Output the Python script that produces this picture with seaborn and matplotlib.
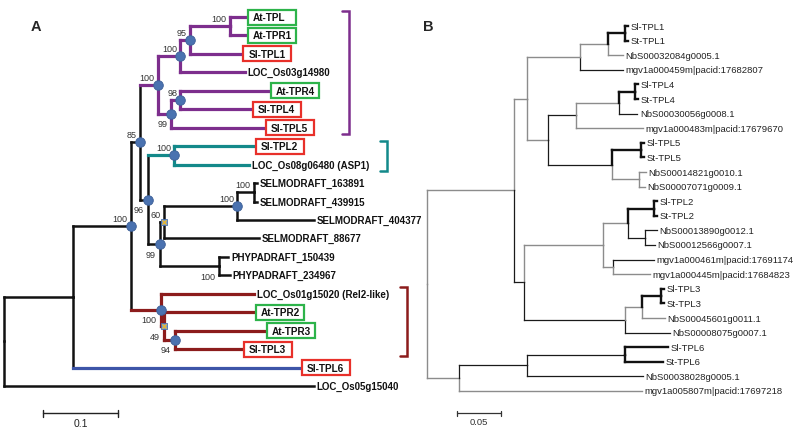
import matplotlib
matplotlib.use("Agg")
import matplotlib.pyplot as plt
from matplotlib.patches import Rectangle
import seaborn as sns
import pandas as pd

sns.set_theme(style="white")
plt.rcParams["font.family"] = ["Liberation Sans", "DejaVu Sans"]

# ---------------- Panel A data (distances from root, subst./site) ----------------
a_leaves = ["At-TPL", "At-TPR1", "Sl-TPL1", "LOC_Os03g14980", "At-TPR4", "Sl-TPL4", "Sl-TPL5",
            "Sl-TPL2", "LOC_Os08g06480 (ASP1)", "SELMODRAFT_163891", "SELMODRAFT_439915",
            "SELMODRAFT_404377", "SELMODRAFT_88677", "PHYPADRAFT_150439", "PHYPADRAFT_234967",
            "LOC_Os01g15020 (Rel2-like)", "At-TPR2", "At-TPR3", "Sl-TPL3", "Sl-TPL6",
            "LOC_Os05g15040"]
a_leaf_parent = ["n7", "n7", "n6", "n5", "n9", "n9", "n8",
                 "n11", "n11", "n15", "n15",
                 "n14", "n13", "n16", "n16",
                 "n17", "n18", "n19", "n19", "n1",
                 "root"]
a_leaf_depth = [0.325, 0.325, 0.319, 0.321, 0.356, 0.332, 0.349,
                0.336, 0.327, 0.337, 0.337,
                0.413, 0.340, 0.299, 0.301,
                0.333, 0.336, 0.351, 0.320, 0.397,
                0.413]

a_inner = ["root", "n1", "n2", "n3", "n4", "n5", "n6", "n7", "n8", "n9", "n10",
           "n11", "n12", "n13", "n14", "n15", "n16", "n17", "n18", "n19"]
a_inner_parent = [None, "root", "n1", "n2", "n3", "n4", "n5", "n6", "n4", "n8", "n3",
                  "n10", "n10", "n12", "n13", "n14", "n12", "n2", "n17", "n18"]
a_inner_depth = [0.0, 0.092, 0.169, 0.181, 0.205, 0.235, 0.248, 0.301, 0.223, 0.235, 0.192,
                 0.227, 0.208, 0.213, 0.311, 0.333, 0.287, 0.209, 0.213, 0.228]
a_support = {"n2": 100, "n3": 85, "n4": 100, "n5": 100, "n6": 95, "n7": 100, "n8": 99,
             "n9": 98, "n10": 96, "n11": 100, "n12": 99, "n13": 60, "n14": 100,
             "n15": 100, "n16": 100, "n17": 100, "n18": 49, "n19": 94}

# ---------------- Panel B data ----------------
b_leaves = ["Sl-TPL1", "St-TPL1", "NbS00032084g0005.1", "mgv1a000459m|pacid:17682807",
            "Sl-TPL4", "St-TPL4", "NbS00030056g0008.1", "mgv1a000483m|pacid:17679670",
            "Sl-TPL5", "St-TPL5", "NbS00014821g0010.1", "NbS00007071g0009.1",
            "Sl-TPL2", "St-TPL2", "NbS00013890g0012.1", "NbS00012566g0007.1",
            "mgv1a000461m|pacid:17691174", "mgv1a000445m|pacid:17684823",
            "Sl-TPL3", "St-TPL3", "NbS00045601g0011.1", "NbS00008075g0007.1",
            "Sl-TPL6", "St-TPL6", "NbS00038028g0005.1", "mgv1a005807m|pacid:17697218"]
b_leaf_parent = ["m5", "m5", "m4", "m3",
                 "m9", "m9", "m8", "m7",
                 "m11", "m11", "m12", "m12",
                 "m16", "m16", "m17", "m17",
                 "m18", "m18",
                 "m21", "m21", "m20", "m19",
                 "m24", "m24", "m23", "m22"]
b_leaf_depth = [0.228, 0.228, 0.223, 0.223,
                0.240, 0.240, 0.239, 0.245,
                0.247, 0.247, 0.249, 0.248,
                0.261, 0.261, 0.261, 0.259,
                0.258, 0.253,
                0.269, 0.269, 0.270, 0.276,
                0.274, 0.268, 0.245, 0.244]

b_inner = ["R", "m1", "m2", "m3", "m4", "m5", "m6", "m7", "m8", "m9", "m10", "m11", "m12",
           "m13", "m14", "m15", "m16", "m17", "m18", "m19", "m20", "m21", "m22", "m23", "m24"]
b_inner_parent = [None, "R", "m1", "m2", "m3", "m4", "m2", "m6", "m7", "m8", "m6", "m10", "m10",
                  "m1", "m13", "m14", "m15", "m15", "m14", "m13", "m19", "m20", "R", "m22", "m23"]
b_inner_depth = [0.0, 0.099, 0.114, 0.174, 0.206, 0.225, 0.138, 0.169, 0.218, 0.236, 0.210,
                 0.243, 0.241, 0.110, 0.200, 0.228, 0.258, 0.248, 0.211, 0.225, 0.244,
                 0.266, 0.036, 0.114, 0.225]

# ---------------- styling ----------------
W, H = 800, 431
PURPLE, TEAL, DARKRED, BLUE = "#7D2E8D", "#13898A", "#8C1C1C", "#3D55A8"
GREEN_BOX, RED_BOX = "#2DB34A", "#E8302A"
NODE_BLUE = "#4A72B0"
a_clades = {"n4": PURPLE, "n11": TEAL, "n17": DARKRED, "Sl-TPL6": BLUE}
a_circled = ["n2", "n3", "n4", "n5", "n6", "n8", "n9", "n10", "n11", "n12", "n14", "n17", "n19"]
a_crossed = ["n13", "n18"]
a_label_below = ["n8", "n10", "n12", "n16", "n17", "n18", "n19"]

# branch colours in panel B: g = grey, k = thin black, K = thick black
b_style = {"m1": "g", "m22": "g", "m2": "g", "m13": "k", "m3": "g", "m6": "g", "m4": "g",
           "mgv1a000459m|pacid:17682807": "k", "m5": "K", "NbS00032084g0005.1": "g",
           "m7": "k", "m10": "k", "m8": "g", "mgv1a000483m|pacid:17679670": "g", "m9": "K",
           "NbS00030056g0008.1": "k", "m11": "K", "m12": "g", "NbS00014821g0010.1": "g",
           "NbS00007071g0009.1": "g", "m14": "g", "m19": "k", "m15": "g", "m18": "g",
           "m16": "K", "m17": "k", "NbS00013890g0012.1": "k", "NbS00012566g0007.1": "k",
           "mgv1a000461m|pacid:17691174": "k", "mgv1a000445m|pacid:17684823": "g",
           "m20": "g", "NbS00008075g0007.1": "k", "m21": "K", "NbS00045601g0011.1": "g",
           "m23": "k", "mgv1a005807m|pacid:17697218": "g", "m24": "k",
           "NbS00038028g0005.1": "k"}
for name in b_leaves:
    if name[:3] in ("Sl-", "St-"):
        b_style[name] = "K"


def layout(leaves, leaf_parent, leaf_depth, inner, inner_parent, inner_depth):
    depth = dict(zip(leaves, leaf_depth))
    depth.update(zip(inner, inner_depth))
    parent = dict(zip(leaves, leaf_parent))
    parent.update(zip(inner, inner_parent))
    children = {}
    for c, p in parent.items():
        if p is not None:
            children.setdefault(p, []).append(c)
    y = {n: i for i, n in enumerate(leaves)}

    def get_y(n):
        if n not in y:
            ys = [get_y(c) for c in children[n]]
            y[n] = (min(ys) + max(ys)) / 2
        return y[n]
    for n in inner:
        get_y(n)
    return depth, parent, y


def make_axes(x0_px, unit_px, y0_px, row_px):
    ax = fig.add_axes([0, 0, 1, 1])
    ax.set_xlim(-x0_px / unit_px, (W - x0_px) / unit_px)
    ax.set_ylim((H - y0_px) / row_px, -y0_px / row_px)
    ax.axis("off")
    ax.patch.set_alpha(0)
    return ax


fig = plt.figure(figsize=(W / 100, H / 100), dpi=100)

# ================= Panel A =================
AX0, AUNIT, AY0, AROW = 4, 750.0, 18, 18.45
axA = make_axes(AX0, AUNIT, AY0, AROW)
depA, parA, yA = layout(a_leaves, a_leaf_parent, a_leaf_depth, a_inner, a_inner_parent, a_inner_depth)


def clade_colour(n):
    while n is not None:
        if n in a_clades:
            return a_clades[n]
        n = parA[n]
    return None


for c, p in parA.items():
    if p is None:
        continue
    hc = clade_colour(c)
    vc = clade_colour(p)
    axA.plot([depA[p], depA[p]], [yA[p], yA[c]], color=vc or "#111111",
             lw=2.3 if vc else 1.8, solid_capstyle="projecting", zorder=1)
    axA.plot([depA[p], depA[c]], [yA[c], yA[c]], color=hc or "#111111",
             lw=2.3 if hc else 1.8, solid_capstyle="projecting", zorder=1)

nodes_df = pd.DataFrame({"x": [depA[n] for n in a_circled], "y": [yA[n] for n in a_circled]})
sns.scatterplot(data=nodes_df, x="x", y="y", ax=axA, s=48, color=NODE_BLUE,
                edgecolor="#3B5E96", linewidth=0.6, zorder=4, legend=False)
cross_df = pd.DataFrame({"x": [depA[n] for n in a_crossed], "y": [yA[n] for n in a_crossed]})
sns.scatterplot(data=cross_df, x="x", y="y", ax=axA, s=22, marker="s", color="#7FA0CF",
                edgecolor=NODE_BLUE, linewidth=0.6, zorder=4, legend=False)
sns.scatterplot(data=cross_df, x="x", y="y", ax=axA, s=10, marker="x", color="#E2B53A",
                linewidth=1.0, zorder=5, legend=False)
axA.set_xlabel("")
axA.set_ylabel("")

for n, val in a_support.items():
    off = (-4, -10) if n in a_label_below else (-3, 8)
    axA.annotate(str(val), (depA[n], yA[n]), xytext=(off[0] * 0.72, off[1] * 0.72),
                 textcoords="offset points", ha="right", va="center",
                 fontsize=6.5, color="#333333", zorder=6)

for n in a_leaves:
    x, y = depA[n], yA[n]
    if n.startswith("At-") or n.startswith("Sl-"):
        ec = GREEN_BOX if n.startswith("At-") else RED_BOX
        axA.add_patch(Rectangle((x, y - 7.5 / AROW), 48 / AUNIT, 15 / AROW, fc="white",
                                ec=ec, lw=1.6, zorder=3))
        axA.text(x + 5 / AUNIT, y, n, fontsize=7.2, fontweight="bold", va="center",
                 ha="left", color="#111111", zorder=4)
    else:
        axA.text(x + 3 / AUNIT, y, n, fontsize=7.0, fontweight="bold", va="center",
                 ha="left", color="#111111", zorder=4)

# scale bar A
sb_y = (414 - AY0) / AROW
sb_x0 = (43 - AX0) / AUNIT
axA.plot([sb_x0, sb_x0 + 0.1], [sb_y, sb_y], color="#222222", lw=1.0)
for xx in (sb_x0, sb_x0 + 0.1):
    axA.plot([xx, xx], [sb_y - 3.5 / AROW, sb_y + 3.5 / AROW], color="#222222", lw=1.0)
axA.text(sb_x0 + 0.05, sb_y + 10 / AROW, "0.1", ha="center", va="center", fontsize=7.5,
         color="#222222")

# clade brackets (figure pixels)
axO = fig.add_axes([0, 0, 1, 1])
axO.set_xlim(0, W)
axO.set_ylim(H, 0)
axO.axis("off")
axO.patch.set_alpha(0)
for bx, y0, y1, col in [(349, 12, 135, PURPLE), (387, 142, 172, TEAL), (407, 288, 357, DARKRED)]:
    axO.plot([bx - 7, bx, bx, bx - 7], [y0, y0, y1, y1], color=col, lw=1.8,
             solid_joinstyle="miter")

fig.text(36 / W, 1 - 27 / H, "A", fontsize=10.5, fontweight="bold", ha="center", va="center")
fig.text(428 / W, 1 - 27 / H, "B", fontsize=10.5, fontweight="bold", ha="center", va="center")

# ================= Panel B =================
BX0, BUNIT, BY0, BROW = 427, 880.0, 27, 14.6
axB = make_axes(BX0, BUNIT, BY0, BROW)
depB, parB, yB = layout(b_leaves, b_leaf_parent, b_leaf_depth, b_inner, b_inner_parent, b_inner_depth)

line_look = {"g": ("#8C8C8C", 1.0), "k": ("#1A1A1A", 0.9), "K": ("#111111", 1.7)}
for c, p in parB.items():
    if p is None:
        continue
    col, lw = line_look[b_style.get(c, "k")]
    axB.plot([depB[p], depB[p]], [yB[p], yB[c]], color=col, lw=lw,
             solid_capstyle="projecting", zorder=2 if lw > 1.5 else 1)
    axB.plot([depB[p], depB[c]], [yB[c], yB[c]], color=col, lw=lw,
             solid_capstyle="projecting", zorder=2 if lw > 1.5 else 1)

for n in b_leaves:
    axB.text(depB[n] + 2.5 / BUNIT, yB[n], n, fontsize=6.8, va="center", ha="left",
             color="#222222")

# scale bar B
sbb_y = (414 - BY0) / BROW
sbb_x0 = (457 - BX0) / BUNIT
axB.plot([sbb_x0, sbb_x0 + 0.05], [sbb_y, sbb_y], color="#333333", lw=0.9)
for xx in (sbb_x0, sbb_x0 + 0.05):
    axB.plot([xx, xx], [sbb_y - 2.5 / BROW, sbb_y + 2.5 / BROW], color="#333333", lw=0.9)
axB.text(sbb_x0 + 0.025, sbb_y + 9 / BROW, "0.05", ha="center", va="center", fontsize=6.8,
         color="#333333")

fig.savefig("out.png", dpi=100)
